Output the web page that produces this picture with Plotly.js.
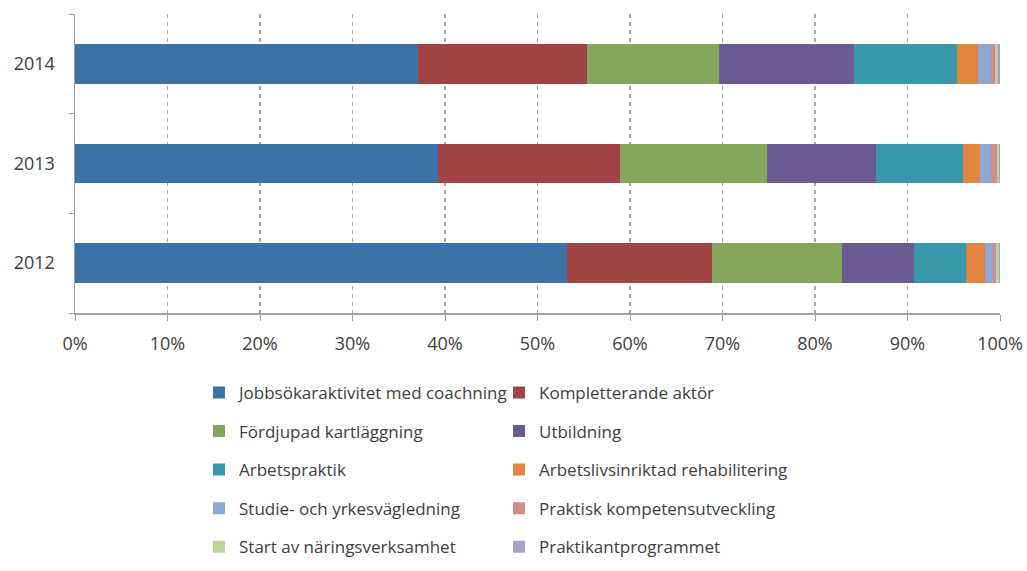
<!DOCTYPE html>
<html>
<head>
<meta charset="utf-8">
<script src="https://cdn.plot.ly/plotly-3.0.1.min.js"></script>
<style>
  html, body { margin: 0; padding: 0; background: #ffffff; }
  #chart { width: 1027px; height: 571px; }
</style>
</head>
<body>
<div id="chart"></div>
<script>
// Years shown on the category axis (bottom to top)
const years = ['2012', '2013', '2014'];

// Activity categories, in stacking order
const seriesNames = [
  'Jobbsökaraktivitet med coachning',
  'Kompletterande aktör',
  'Fördjupad kartläggning',
  'Utbildning',
  'Arbetspraktik',
  'Arbetslivsinriktad rehabilitering',
  'Studie- och yrkesvägledning',
  'Praktisk kompetensutveckling',
  'Start av näringsverksamhet',
  'Praktikantprogrammet'
];

// Share (%) per series, values given for 2012, 2013, 2014
const jobbsok      = [53.2, 39.2, 37.1];
const kompletter   = [15.7, 19.7, 18.25];
const fordjupad    = [14.0, 15.9, 14.25];
const utbildning   = [7.8, 11.8, 14.6];
const arbetsprakt  = [5.6, 9.4, 11.15];
const rehab        = [2.1, 1.8, 2.25];
const studieYrke   = [0.8, 1.2, 1.4];
const praktiskKomp = [0.4, 0.7, 0.5];
const startNaring  = [0.3, 0.2, 0.3];
const praktikant   = [0.1, 0.1, 0.2];

const seriesValues = [jobbsok, kompletter, fordjupad, utbildning, arbetsprakt,
                      rehab, studieYrke, praktiskKomp, startNaring, praktikant];

const colors = ['#3d72a9', '#a04546', '#84a65a', '#6c5a92', '#3a98ad',
                '#e0863f', '#8da8d4', '#d48b89', '#b9d59c', '#ae9fca'];

// Left legend column gets even-indexed series, right column odd-indexed
const traces = seriesNames.map((name, i) => ({
  type: 'bar',
  orientation: 'h',
  name: name,
  y: years,
  x: seriesValues[i],
  width: 0.4,
  marker: { color: colors[i], line: { width: 0 } },
  legend: i % 2 === 0 ? 'legend' : 'legend2',
  legendgroup: 'g' + i,
  hovertemplate: '%{y}: %{x:.1f}%<extra>' + name + '</extra>'
}));

const legendFont = { family: '"Open Sans", sans-serif', size: 17, color: '#404040' };
const tickFont = { family: '"Open Sans", sans-serif', size: 18, color: '#404040' };

const legendBase = {
  yref: 'container', yanchor: 'top', y: 0.3435,
  xref: 'paper', xanchor: 'left',
  orientation: 'v',
  traceorder: 'grouped',
  tracegroupgap: 13.5,
  itemwidth: 30,
  font: legendFont,
  bgcolor: 'rgba(0,0,0,0)'
};

const layout = {
  width: 1027,
  height: 571,
  margin: { l: 75, r: 27, t: 14, b: 258, autoexpand: false },
  paper_bgcolor: '#ffffff',
  plot_bgcolor: '#ffffff',
  barmode: 'stack',
  showlegend: true,
  font: { family: '"Open Sans", sans-serif', size: 16, color: '#404040' },
  xaxis: {
    range: [0, 100],
    tick0: 0,
    dtick: 10,
    ticksuffix: '%',
    showgrid: true,
    gridcolor: '#a8a8a8',
    griddash: '4px,4px',
    gridwidth: 1.5,
    zeroline: false,
    showline: true,
    linecolor: '#a0a0a0',
    linewidth: 1.5,
    ticks: 'outside',
    ticklen: 6,
    tickcolor: '#a0a0a0',
    ticklabelstandoff: 8,
    tickfont: tickFont,
    fixedrange: true
  },
  yaxis: {
    type: 'category',
    categoryorder: 'array',
    categoryarray: years,
    showgrid: false,
    zeroline: false,
    showline: true,
    linecolor: '#a0a0a0',
    linewidth: 1.5,
    ticks: 'outside',
    tickson: 'boundaries',
    ticklen: 5,
    tickcolor: '#a0a0a0',
    ticklabelstandoff: 15,
    tickfont: tickFont,
    fixedrange: true
  },
  legend: Object.assign({}, legendBase, { x: (199 - 75) / 925 }),
  legend2: Object.assign({}, legendBase, { x: (499 - 75) / 925 })
};

Plotly.newPlot('chart', traces, layout, { displayModeBar: false, staticPlot: true });
</script>
</body>
</html>
